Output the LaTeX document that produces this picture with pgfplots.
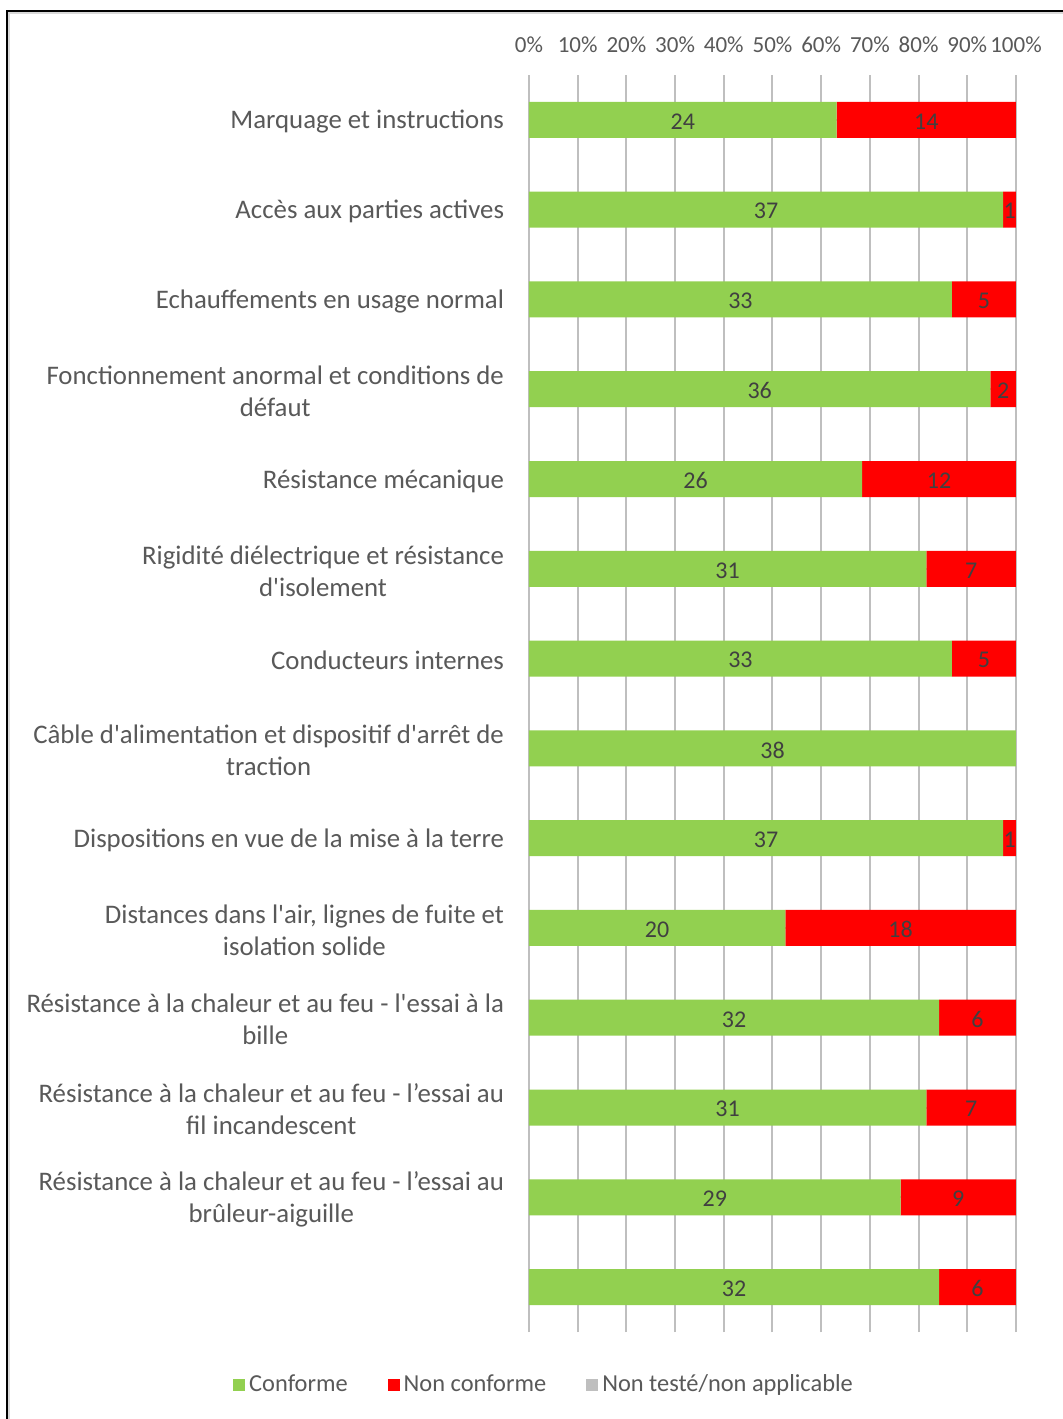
\documentclass[border=0pt]{standalone}
\usepackage{pgfplots}
\pgfplotsset{compat=1.18}
\usepackage{pgfplotstable}
\usepackage{fontspec}
\setmainfont{Carlito}
\definecolor{vert}{HTML}{92D050}
\definecolor{rouge}{HTML}{FF0000}
\definecolor{gris}{HTML}{BFBFBF}
\definecolor{txt}{HTML}{595959}
\definecolor{lbl}{HTML}{404040}
\definecolor{grid}{HTML}{D9D9D9}
\pgfplotstableread{
i c n
13 24 14
12 37 1
11 33 5
10 36 2
9 26 12
8 31 7
7 33 5
6 38 0
5 37 1
4 20 18
3 32 6
2 31 7
1 29 9
0 32 6
}\data
\begin{document}
\begin{tikzpicture}
\useasboundingbox (0,0) rectangle (531.5pt,709.5pt);
\fill[white] (0,0) rectangle (531.5pt,709.5pt);
\draw[grid, line width=0.8pt] (4.6pt,0) -- (4.6pt,702.9pt) -- (531.5pt,702.9pt);
\draw[black, line width=1pt] (3.5pt,0) -- (3.5pt,704pt) -- (531.5pt,704pt);
\begin{axis}[
  at={(264.5pt,43.5pt)}, anchor=south west,
  scale only axis, width=243.5pt, height=628.5pt,
  xbar stacked, bar width=18pt,
  xmin=0, xmax=38, ymin=-0.5, ymax=13.5,
  axis line style={draw=none},
  xmajorgrids, grid style={grid, line width=1pt},
  xtick={0,3.8,7.6,11.4,15.2,19,22.8,26.6,30.4,34.2,38},
  xticklabels={0\%,10\%,20\%,30\%,40\%,50\%,60\%,70\%,80\%,90\%,100\%},
  xticklabel pos=upper,
  xticklabel style={font=\fontsize{11.5}{13}\selectfont, text=txt, yshift=7.5pt},
  ytick={0,...,13},
  yticklabels={{},
    {Résistance à la chaleur et au feu - l’essai au\\brûleur-aiguille},
    {Résistance à la chaleur et au feu - l’essai au\\fil incandescent},
    {Résistance à la chaleur et au feu - l\textquotesingle essai à la\\bille},
    {Distances dans l\textquotesingle air, lignes de fuite et\\isolation solide},
    {Dispositions en vue de la mise à la terre},
    {Câble d\textquotesingle alimentation et dispositif d\textquotesingle arrêt de\\traction},
    {Conducteurs internes},
    {Rigidité diélectrique et résistance\\d\textquotesingle isolement},
    {Résistance mécanique},
    {Fonctionnement anormal et conditions de\\défaut},
    {Echauffements en usage normal},
    {Accès aux parties actives},
    {Marquage et instructions}},
  yticklabel style={font=\fontsize{13.4}{16}\selectfont, text=txt, align=center, xshift=-9pt, yshift=-1pt},
  major tick length=0pt,
  /pgf/number format/assume math mode=true,
  nodes near coords={\pgfmathfloatifflags{\pgfplotspointmeta}{0}{}{\pgfmathprintnumber{\pgfplotspointmeta}}},
  every node near coord/.append style={font=\fontsize{12}{14}\selectfont, text=lbl, yshift=-0.8pt},
  legend columns=3,
  legend style={at={(0.033,-0.042)}, anchor=center, draw=none, fill=none,
    font=\fontsize{12.2}{14}\selectfont, text=txt,
    /tikz/every even column/.append style={column sep=18pt}},
  legend image code/.code={\fill[#1] (0pt,-3pt) rectangle (6pt,3pt);},
]
\addplot[fill=vert, draw=none] table[x=c, y=i] {\data};
\addlegendentry{Conforme}
\addplot[fill=rouge, draw=none] table[x=n, y=i] {\data};
\addlegendentry{Non conforme}
\addlegendimage{fill=gris, draw=none}
\addlegendentry{Non testé/non applicable}
\end{axis}
\end{tikzpicture}
\end{document}
